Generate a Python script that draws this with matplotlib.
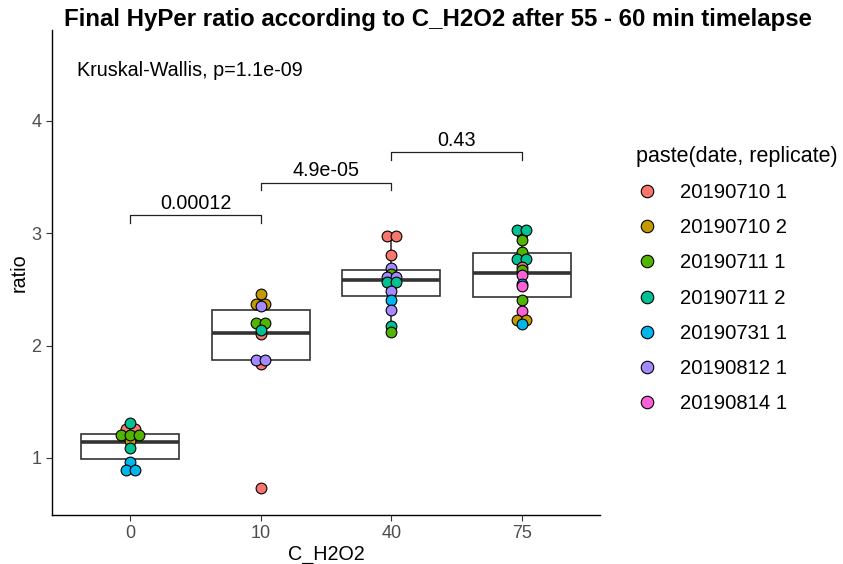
import matplotlib.pyplot as plt
from matplotlib.lines import Line2D

plt.rcParams['font.family'] = ['Liberation Sans', 'DejaVu Sans']

# categories on the x axis
conc_labels = ['0', '10', '40', '75']

# replicate names and their ggplot hue colours
rep_names = ['20190710 1', '20190710 2', '20190711 1', '20190711 2',
             '20190731 1', '20190812 1', '20190814 1']
rep_colors = ['#F8766D', '#C49A00', '#53B400', '#00C094',
              '#00B6EB', '#A58AFF', '#FB61D7']

ratio_0 = [1.26, 1.26, 1.31, 1.15, 1.20, 1.20, 1.20, 1.09, 0.96, 0.89, 0.89]
rep_0 = [0, 0, 3, 1, 2, 2, 2, 3, 4, 4, 4]

ratio_10 = [2.46, 2.37, 2.37, 2.35, 2.20, 2.20, 2.10, 2.14, 1.84, 1.87, 1.87, 0.73]
rep_10 = [1, 1, 1, 5, 2, 2, 0, 3, 0, 5, 5, 0]

ratio_40 = [2.98, 2.98, 2.81, 2.69, 2.64, 2.61, 2.61, 2.54, 2.57, 2.57,
            2.49, 2.41, 2.32, 2.17, 2.12]
rep_40 = [0, 0, 0, 5, 2, 5, 5, 4, 3, 3, 5, 4, 5, 3, 2]

ratio_75 = [2.99, 3.03, 3.03, 2.94, 2.83, 2.77, 2.77, 2.70, 2.67, 2.63,
            2.55, 2.53, 2.41, 2.31, 2.23, 2.23, 2.19]
rep_75 = [0, 3, 3, 2, 2, 3, 3, 0, 2, 6, 4, 6, 2, 6, 1, 1, 4]

# boxplot summary (q1, median, q3, whisker low, whisker high)
box_q1 = [0.99, 1.87, 2.44, 2.43]
box_med = [1.14, 2.11, 2.58, 2.65]
box_q3 = [1.21, 2.32, 2.67, 2.82]
box_lo = [0.89, 1.84, 2.12, 2.19]
box_hi = [1.31, 2.46, 2.98, 3.04]

# pairwise comparisons: (group a, group b, bracket height, p label)
pair_a = [0, 1, 2]
pair_b = [1, 2, 3]
pair_y = [3.16, 3.45, 3.72]
pair_p = ['0.00012', '4.9e-05', '0.43']

ratios = [ratio_0, ratio_10, ratio_40, ratio_75]
reps = [rep_0, rep_10, rep_40, rep_75]

fig = plt.figure(figsize=(8.43, 5.64), dpi=100)
ax = fig.add_axes([0.0617, 0.0869, 0.650, 0.860])

stats = []
for i in range(4):
    stats.append({'q1': box_q1[i], 'med': box_med[i], 'q3': box_q3[i],
                  'whislo': box_lo[i], 'whishi': box_hi[i], 'fliers': []})
ax.bxp(stats, positions=range(4), widths=0.75, showcaps=False, patch_artist=True,
       boxprops=dict(facecolor='white', edgecolor='#333333', linewidth=1.2),
       whiskerprops=dict(color='#333333', linewidth=1.2),
       medianprops=dict(color='#333333', linewidth=2.6), zorder=1)

# centred dot stacking, like geom_dotplot(stackdir='center')
dx = 0.069
for i in range(4):
    vals = ratios[i]
    counts = {}
    for v in vals:
        counts[v] = counts.get(v, 0) + 1
    seen = {}
    for v, r in zip(vals, reps[i]):
        k = seen.get(v, 0)
        seen[v] = k + 1
        off = (k - (counts[v] - 1) / 2) * dx
        ax.scatter(i + off, v, s=60, color=rep_colors[r], edgecolors='black',
                   linewidths=0.8, zorder=3)

# significance brackets
tip = 0.065
for a, b, y, p in zip(pair_a, pair_b, pair_y, pair_p):
    ax.plot([a, a, b, b], [y - tip, y, y, y - tip], color='#222222', linewidth=0.9)
    ax.text((a + b) / 2, y + 0.02, p, ha='center', va='bottom', fontsize=14.2)

ax.text(-0.405, 4.45, 'Kruskal-Wallis, p=1.1e-09', ha='left', va='center', fontsize=14.2)

ax.set_xlim(-0.6, 3.6)
ax.set_ylim(0.492, 4.81)
ax.set_xticks(range(4))
ax.set_xticklabels(conc_labels)
ax.set_yticks([1, 2, 3, 4])
ax.tick_params(axis='both', labelsize=13, labelcolor='#4D4D4D', color='#333333',
               length=4, width=0.8)
for side in ['top', 'right']:
    ax.spines[side].set_visible(False)
for side in ['left', 'bottom']:
    ax.spines[side].set_linewidth(1.0)
ax.set_xlabel('C_H2O2', fontsize=14.2, labelpad=2)
ax.set_ylabel('ratio', fontsize=14.2, labelpad=2)

fig.text(0.52, 0.966, 'Final HyPer ratio according to C_H2O2 after 55 - 60 min timelapse',
         ha='center', va='center', fontsize=17.3, fontweight='bold')

handles = [Line2D([], [], linestyle='none', marker='o', markersize=9,
                  markerfacecolor=c, markeredgecolor='black', markeredgewidth=0.8)
           for c in rep_colors]
fig.legend(handles, rep_names, title='paste(date, replicate)', loc='upper left',
           bbox_to_anchor=(0.733, 0.774), frameon=False, fontsize=14.6,
           title_fontsize=15.5, labelspacing=0.8, handlelength=1.1,
           handletextpad=1.08, alignment='left')

fig.savefig('out.png', dpi=100)
